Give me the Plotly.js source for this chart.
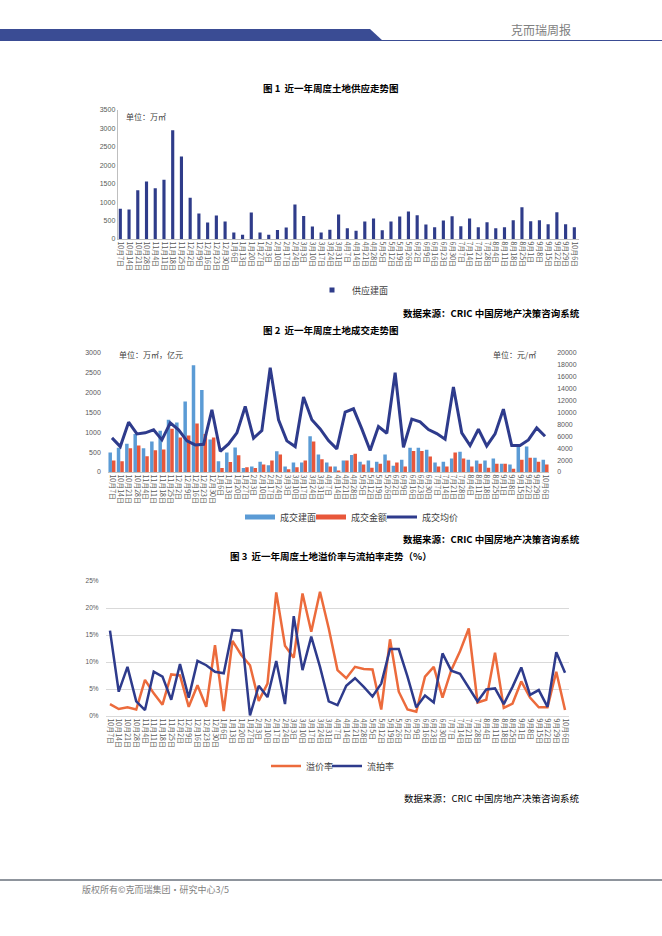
<!DOCTYPE html>
<html><head><meta charset="utf-8">
<script src="https://cdn.plot.ly/plotly-3.0.1.min.js"></script>
<style>html,body{margin:0;padding:0;background:#fff}#page{width:662px;height:936px}</style>
</head><body><div id="page"></div>
<script>
// ---- data ----
const dates = ["10月7日","10月14日","10月21日","10月28日","11月4日","11月11日","11月18日","11月25日","12月2日","12月9日","12月16日","12月23日","12月30日","1月6日","1月13日","1月20日","1月27日","2月3日","2月10日","2月17日","2月24日","3月3日","3月10日","3月17日","3月24日","3月31日","4月7日","4月14日","4月21日","4月28日","5月5日","5月12日","5月19日","5月26日","6月2日","6月9日","6月16日","6月23日","6月30日","7月7日","7月14日","7月21日","7月28日","8月4日","8月11日","8月18日","8月25日","9月1日","9月8日","9月15日","9月22日","9月29日","10月6日"];
// 图1 供应建面 (万㎡)
const supply = [820,800,1320,1560,1380,1610,2950,2240,1120,690,445,636,473,173,118,718,173,118,245,309,936,627,336,173,254,665,290,227,473,555,236,473,609,745,645,391,318,500,618,345,555,318,455,290,318,509,864,482,509,400,727,400,318];
// 图2 成交建面 (万㎡), 成交金额 (亿元), 成交均价 (元/㎡)
const dealArea = [490,610,710,960,600,770,1040,1320,1250,1780,2690,2070,820,270,490,620,100,140,260,170,520,140,240,240,900,440,240,140,290,430,260,290,260,440,160,310,610,610,560,240,260,340,510,310,290,290,340,210,190,650,640,360,310];
const dealAmount = [290,270,600,670,400,550,570,1090,870,920,1220,960,870,100,250,420,120,100,190,290,440,70,120,290,770,320,140,40,290,460,190,110,210,290,240,140,530,530,390,140,140,490,340,140,210,110,210,210,80,310,360,260,190];
const dealPrice = [5730,4270,8370,6400,6580,7080,5400,8260,7080,5230,4550,4660,10450,3480,4720,6580,11010,5680,6970,17530,8770,5230,4270,12590,8770,7250,5280,3880,10060,10620,7250,3600,7640,6520,16690,4160,8880,8430,7140,6460,5510,14270,6580,4440,7190,4380,6410,10570,4440,4440,5400,7420,6010];
// 图3 溢价率 / 流拍率 (%)
const premium = [2.2,1.3,1.6,1.2,6.7,4.2,2.1,7.7,7.5,1.7,5.7,1.7,13.1,0.9,13.9,11.3,9.4,2.8,6.0,22.9,13.0,10.8,22.7,15.6,23.0,16.2,8.5,7.0,9.1,8.7,8.6,1.2,14.2,4.5,1.2,0.8,7.3,9.1,3.4,8.5,12.0,16.2,2.5,3.0,11.7,1.5,2.3,6.4,3.4,1.6,1.6,8.2,1.1];
const failRate = [15.8,4.5,9.1,2.7,1.1,8.2,7.3,3.0,9.6,3.4,10.2,9.4,8.2,7.9,15.9,15.8,0.1,5.6,3.5,10.2,2.2,18.5,8.5,14.7,9.1,2.7,2.0,5.6,7.0,5.4,3.6,6.0,12.4,12.4,7.3,1.6,3.8,2.5,11.6,8.4,7.8,5.3,2.7,4.9,5.1,2.2,5.4,9.0,3.9,4.8,1.7,11.8,8.0];

// ---- layout helpers ----
const W = 662, H = 936;
const X = v => v / W, Y = v => 1 - v / H;
const CJK = '"Noto Sans CJK SC", "Noto Sans", sans-serif';
const NUM = '"Liberation Sans", Arial, sans-serif';
const navy = '#2F3C8A', blue = '#5B9BD5', red = '#E8573A', orange = '#EC6B3C', lineBlue = '#2E3B8C';

const xcat = (dom, range, anchor) => ({
  domain: dom, anchor: anchor, type: 'category', range: range,
  tickmode: 'linear', tick0: 0, dtick: 1, tickangle: 90,
  tickfont: {family: CJK, size: 7, color: '#595959'},
  showgrid: false, zeroline: false, showline: true, linecolor: '#bfbfbf', linewidth: 1, ticks: '', fixedrange: true
});

const traces = [
  {type: 'bar', x: dates, y: supply, name: '供应建面', marker: {color: navy}, width: 0.36,
   xaxis: 'x', yaxis: 'y', showlegend: false},
  {type: 'bar', x: dates, y: dealArea, name: '成交建面', marker: {color: blue},
   xaxis: 'x2', yaxis: 'y2', showlegend: false, offsetgroup: 'a'},
  {type: 'bar', x: dates, y: dealAmount, name: '成交金额', marker: {color: red},
   xaxis: 'x2', yaxis: 'y2', showlegend: false, offsetgroup: 'b'},
  {type: 'scatter', mode: 'lines', x: dates, y: dealPrice, name: '成交均价', line: {color: lineBlue, width: 3},
   xaxis: 'x2', yaxis: 'y3', legend: 'legend4'},
  {type: 'scatter', mode: 'lines', x: dates, y: premium, name: '溢价率', line: {color: orange, width: 2.5},
   xaxis: 'x3', yaxis: 'y4', legend: 'legend5'},
  {type: 'scatter', mode: 'lines', x: dates, y: failRate, name: '流拍率', line: {color: lineBlue, width: 2.5},
   xaxis: 'x3', yaxis: 'y4', legend: 'legend6'},
  // legend keys for the bar series (Excel-style swatches)
  {type: 'scatter', mode: 'markers', x: [null], y: [null], name: '供应建面', marker: {color: navy, symbol: 'square', size: 5},
   xaxis: 'x', yaxis: 'y', legend: 'legend', hoverinfo: 'skip'},
  {type: 'scatter', mode: 'lines', x: [null], y: [null], name: '成交建面', line: {color: blue, width: 5},
   xaxis: 'x2', yaxis: 'y2', legend: 'legend2', hoverinfo: 'skip'},
  {type: 'scatter', mode: 'lines', x: [null], y: [null], name: '成交金额', line: {color: red, width: 5},
   xaxis: 'x2', yaxis: 'y2', legend: 'legend3', hoverinfo: 'skip'}
];

const ann = (text, x, y, opts) => Object.assign({
  text: text, xref: 'paper', yref: 'paper', x: X(x), y: Y(y), showarrow: false,
  xanchor: 'left', yanchor: 'middle', font: {family: CJK, size: 8, color: '#404040'}
}, opts || {});

const legFont = {family: CJK, size: 9, color: '#404040'};
const leg = (x, y) => ({x: X(x), y: Y(y), xanchor: 'left', yanchor: 'middle', orientation: 'h',
  bgcolor: 'rgba(0,0,0,0)', font: legFont, itemwidth: 30});

const layout = {
  width: W, height: H, margin: {l: 0, r: 0, t: 0, b: 0},
  paper_bgcolor: '#ffffff', plot_bgcolor: 'rgba(0,0,0,0)',
  font: {family: CJK, size: 7, color: '#595959'},
  showlegend: true, barmode: 'group', bargap: 0.16, bargroupgap: 0,
  xaxis: xcat([X(117.7), X(578.7)], [-0.3, 52.5], 'y'),
  yaxis: {domain: [Y(239), Y(110)], anchor: 'x', range: [0, 3500], dtick: 500, showgrid: false, zeroline: false,
          showline: true, linecolor: '#bfbfbf', ticks: '', tickformat: 'd', tickfont: {family: NUM, size: 7, color: '#595959'}, fixedrange: true},
  xaxis2: xcat([X(107.8), X(549.2)], [-0.5, 52.5], 'y2'),
  yaxis2: {domain: [Y(472), Y(353)], anchor: 'x2', range: [0, 3000], dtick: 500, showgrid: false, zeroline: false,
           showline: false, ticks: '', tickformat: 'd', ticklabelstandoff: 6, tickfont: {family: NUM, size: 7, color: '#595959'}, fixedrange: true},
  yaxis3: {overlaying: 'y2', anchor: 'x2', side: 'right', range: [0, 20000], dtick: 2000, showgrid: false, zeroline: false,
           showline: false, ticks: '', tickformat: 'd', ticklabelstandoff: 7, tickfont: {family: NUM, size: 7, color: '#595959'}, fixedrange: true},
  xaxis3: Object.assign(xcat([X(105.6), X(569.4)], [-0.5, 52.5], 'y4'), {linecolor: '#d9d9d9'}),
  yaxis4: {domain: [Y(716), Y(581)], anchor: 'x3', range: [0, 25], dtick: 5, ticksuffix: '%', showgrid: true, gridcolor: '#d9d9d9',
           zeroline: false, showline: false, ticks: '', ticklabelstandoff: 6, tickfont: {family: NUM, size: 6.5, color: '#595959'}, fixedrange: true},
  legend: leg(312, 290),
  legend2: leg(240, 517),
  legend3: leg(311, 517),
  legend4: leg(382, 517),
  legend5: leg(266, 766),
  legend6: leg(327, 766),
  shapes: [
    {type: 'path', xref: 'paper', yref: 'paper', line: {width: 0}, fillcolor: '#3A4C94',
     path: `M ${X(0)} ${Y(29)} L ${X(370)} ${Y(29)} L ${X(383)} ${Y(41)} L ${X(0)} ${Y(41)} Z`},
    {type: 'line', xref: 'paper', yref: 'paper', x0: X(381), x1: X(662), y0: Y(40.5), y1: Y(40.5), line: {color: '#3A4C94', width: 1}},
    {type: 'line', xref: 'paper', yref: 'paper', x0: X(0), x1: X(662), y0: Y(880), y1: Y(880), line: {color: '#1F2B3A', width: 1}}
  ],
  annotations: [
    ann('克而瑞周报', 541, 30, {xanchor: 'center', font: {family: CJK, size: 12, color: '#808080'}}),
    ann('<b>图 1  近一年周度土地供应走势图</b>', 331, 88, {xanchor: 'center', font: {family: CJK, size: 9.5, color: '#000'}}),
    ann('单位：万㎡', 124, 116, {font: {family: CJK, size: 8, color: '#404040'}}),
    ann('<b>数据来源：CRIC 中国房地产决策咨询系统</b>', 582, 313, {xanchor: 'right', font: {family: CJK, size: 9.5, color: '#000'}}),
    ann('<b>图 2  近一年周度土地成交走势图</b>', 331, 330, {xanchor: 'center', font: {family: CJK, size: 9.5, color: '#000'}}),
    ann('单位：万㎡，亿元', 117, 354, {font: {family: CJK, size: 8, color: '#404040'}}),
    ann('单位：元/㎡', 491, 354, {font: {family: CJK, size: 8, color: '#404040'}}),
    ann('<b>数据来源：CRIC 中国房地产决策咨询系统</b>', 582, 539, {xanchor: 'right', font: {family: CJK, size: 9.5, color: '#000'}}),
    ann('<b>图 3  近一年周度土地溢价率与流拍率走势（%）</b>', 331, 556, {xanchor: 'center', font: {family: CJK, size: 9.5, color: '#000'}}),
    ann('数据来源：CRIC 中国房地产决策咨询系统', 582, 798, {xanchor: 'right', font: {family: CJK, size: 9.5, color: '#000'}}),
    ann('版权所有©克而瑞集团·研究中心3/5', 80, 889, {font: {family: CJK, size: 9, color: '#7f7f7f'}})
  ]
};

Plotly.newPlot('page', traces, layout, {displayModeBar: false, staticPlot: true});
</script>
</body></html>
